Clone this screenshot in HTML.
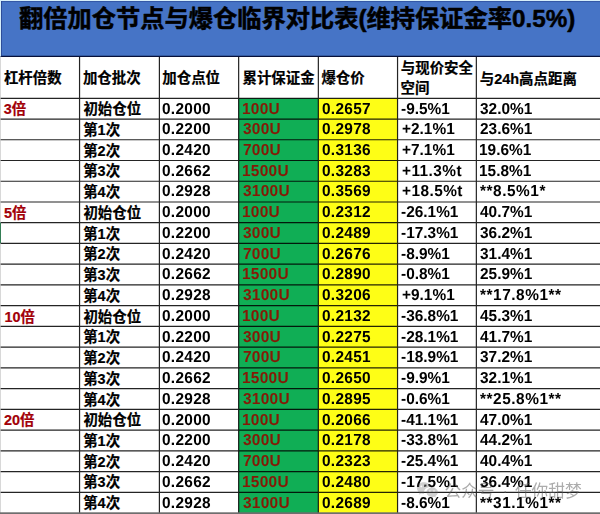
<!DOCTYPE html>
<html lang="zh"><head><meta charset="utf-8"><title>翻倍加仓节点与爆仓临界对比表(维持保证金率0.5%)</title>
<style>
html,body{margin:0;padding:0;background:#fff}
body{width:600px;height:514px;overflow:hidden;position:relative;font-family:"Liberation Sans",sans-serif}
#sheet{position:absolute;left:0;top:0;width:600px;height:514px;overflow:hidden}
svg{position:absolute;left:0;top:0;display:block}
svg text{font-family:"Liberation Sans","Noto Sans CJK SC",sans-serif}
#nums{position:absolute;left:0;top:0;width:600px;height:514px;will-change:transform}
.n{position:absolute;line-height:20px;font-size:15.9px;text-rendering:geometricPrecision;transform:scaleX(0.97);transform-origin:0 0;font-weight:700;white-space:nowrap;font-family:"Liberation Sans",sans-serif;letter-spacing:0;color:#000}
.g{color:#861806}
</style></head><body>
<div id="sheet">
<svg width="600" height="514" viewBox="0 0 600 514">
<rect x="0" y="0" width="600" height="56.40" fill="#4674c6"/>
<rect x="238.65" y="98.30" width="79.70" height="415.70" fill="#10ae55"/>
<rect x="318.35" y="98.30" width="79.20" height="415.70" fill="#fefe16"/>
<path d="M0 98.30H600M0 119.04H600M0 139.77H600M0 160.51H600M0 181.25H600M0 201.98H600M0 222.72H600M0 243.46H600M0 264.20H600M0 284.93H600M0 305.67H600M0 326.41H600M0 347.14H600M0 367.88H600M0 388.62H600M0 409.35H600M0 430.09H600M0 450.83H600M0 471.57H600M0 492.30H600M79.55 56.40V514M159.40 56.40V514M238.65 56.40V514M318.35 56.40V514M397.55 56.40V514M476.35 56.40V514" stroke="#000" stroke-width="1.2" stroke-opacity="0.86" fill="none"/>
<path d="M0 56.40H600" stroke="#06103a" stroke-width="1.1"/>
<path d="M0 0.5H600" stroke="#d6eefa" stroke-width="1"/>
<path d="M1 1.55H600" stroke="#2f4f9c" stroke-width="0.8" fill="none"/>
<path d="M1.4 1.2V56.40" stroke="#263f86" stroke-width="0.8" fill="none"/>
<path d="M0.5 0V56.40" stroke="#d6eefa" stroke-width="1"/>
<path d="M0.4 56.40V514" stroke="#c8c8c8" stroke-width="0.8"/>
<path d="M0.4 222.6V243.3" stroke="#217346" stroke-width="1"/>
<rect x="0" y="512.3" width="600" height="1.7" fill="#6e6e6e"/>
<g><title>翻倍加仓节点与爆仓临界对比表(维持保证金率0.5%)</title><text x="19.0" y="26.8" font-size="24.25" font-weight="700" fill="#000" stroke="#000" stroke-width="0.5" stroke-linejoin="round">翻倍加仓节点与爆仓临界对比表(维持保证金率0.5%)</text></g>
<g><title>杠杆倍数</title><text x="3.9" y="83.4" font-size="14.45" font-weight="700" fill="#000" stroke="#000" stroke-width="0.2">杠杆倍数</text></g>
<g><title>加仓批次</title><text x="82.9" y="83.4" font-size="14.45" font-weight="700" fill="#000" stroke="#000" stroke-width="0.2">加仓批次</text></g>
<g><title>加仓点位</title><text x="162.3" y="83.4" font-size="14.45" font-weight="700" fill="#000" stroke="#000" stroke-width="0.2">加仓点位</text></g>
<g><title>累计保证金</title><text x="242.5" y="83.4" font-size="14.45" font-weight="700" fill="#000" stroke="#000" stroke-width="0.2">累计保证金</text></g>
<g><title>爆仓价</title><text x="321.4" y="83.4" font-size="14.45" font-weight="700" fill="#000" stroke="#000" stroke-width="0.2">爆仓价</text></g>
<g><title>与现价安全</title><text x="400.8" y="73.0" font-size="14.45" font-weight="700" fill="#000" stroke="#000" stroke-width="0.2">与现价安全</text></g>
<g><title>空间</title><text x="400.6" y="93.3" font-size="14.45" font-weight="700" fill="#000" stroke="#000" stroke-width="0.2">空间</text></g>
<g><title>与24h高点距离</title><text x="479.8" y="83.7" font-size="14.45" font-weight="700" fill="#000" stroke="#000" stroke-width="0.2">与24h高点距离</text></g>
<g><title>3倍</title><text x="3.8" y="114.2" font-size="14.45" font-weight="700" fill="#a20008" stroke="#a20008" stroke-width="0.2">3倍</text></g>
<g><title>初始仓位</title><text x="83.4" y="114.2" font-size="14.45" font-weight="700" fill="#000" stroke="#000" stroke-width="0.2">初始仓位</text></g>
<g><title>第1次</title><text x="83.2" y="134.94" font-size="14.45" font-weight="700" fill="#000" stroke="#000" stroke-width="0.2">第1次</text></g>
<g><title>第2次</title><text x="83.2" y="155.67" font-size="14.45" font-weight="700" fill="#000" stroke="#000" stroke-width="0.2">第2次</text></g>
<g><title>第3次</title><text x="83.2" y="176.41" font-size="14.45" font-weight="700" fill="#000" stroke="#000" stroke-width="0.2">第3次</text></g>
<g><title>第4次</title><text x="83.2" y="197.15" font-size="14.45" font-weight="700" fill="#000" stroke="#000" stroke-width="0.2">第4次</text></g>
<g><title>5倍</title><text x="4.1" y="217.88" font-size="14.45" font-weight="700" fill="#a20008" stroke="#a20008" stroke-width="0.2">5倍</text></g>
<g><title>初始仓位</title><text x="83.4" y="217.88" font-size="14.45" font-weight="700" fill="#000" stroke="#000" stroke-width="0.2">初始仓位</text></g>
<g><title>第1次</title><text x="83.2" y="238.62" font-size="14.45" font-weight="700" fill="#000" stroke="#000" stroke-width="0.2">第1次</text></g>
<g><title>第2次</title><text x="83.2" y="259.36" font-size="14.45" font-weight="700" fill="#000" stroke="#000" stroke-width="0.2">第2次</text></g>
<g><title>第3次</title><text x="83.2" y="280.10" font-size="14.45" font-weight="700" fill="#000" stroke="#000" stroke-width="0.2">第3次</text></g>
<g><title>第4次</title><text x="83.2" y="300.83" font-size="14.45" font-weight="700" fill="#000" stroke="#000" stroke-width="0.2">第4次</text></g>
<g><title>10倍</title><text x="4.5" y="321.57" font-size="14.45" font-weight="700" fill="#a20008" stroke="#a20008" stroke-width="0.2">10倍</text></g>
<g><title>初始仓位</title><text x="83.4" y="321.57" font-size="14.45" font-weight="700" fill="#000" stroke="#000" stroke-width="0.2">初始仓位</text></g>
<g><title>第1次</title><text x="83.2" y="342.31" font-size="14.45" font-weight="700" fill="#000" stroke="#000" stroke-width="0.2">第1次</text></g>
<g><title>第2次</title><text x="83.2" y="363.04" font-size="14.45" font-weight="700" fill="#000" stroke="#000" stroke-width="0.2">第2次</text></g>
<g><title>第3次</title><text x="83.2" y="383.78" font-size="14.45" font-weight="700" fill="#000" stroke="#000" stroke-width="0.2">第3次</text></g>
<g><title>第4次</title><text x="83.2" y="404.52" font-size="14.45" font-weight="700" fill="#000" stroke="#000" stroke-width="0.2">第4次</text></g>
<g><title>20倍</title><text x="4.0" y="425.25" font-size="14.45" font-weight="700" fill="#a20008" stroke="#a20008" stroke-width="0.2">20倍</text></g>
<g><title>初始仓位</title><text x="83.4" y="425.25" font-size="14.45" font-weight="700" fill="#000" stroke="#000" stroke-width="0.2">初始仓位</text></g>
<g><title>第1次</title><text x="83.2" y="445.99" font-size="14.45" font-weight="700" fill="#000" stroke="#000" stroke-width="0.2">第1次</text></g>
<g><title>第2次</title><text x="83.2" y="466.73" font-size="14.45" font-weight="700" fill="#000" stroke="#000" stroke-width="0.2">第2次</text></g>
<g><title>第3次</title><text x="83.2" y="487.47" font-size="14.45" font-weight="700" fill="#000" stroke="#000" stroke-width="0.2">第3次</text></g>
<g><title>第4次</title><text x="83.2" y="508.20" font-size="14.45" font-weight="700" fill="#000" stroke="#000" stroke-width="0.2">第4次</text></g>
</svg>
<div id="nums">
<div class="n" style="left:162.18px;top:100px;letter-spacing:0.30px;">0.2000</div>
<div class="n g" style="left:242.23px;top:100px;letter-spacing:0.30px;">100U</div>
<div class="n y" style="left:321.68px;top:100px;letter-spacing:0.30px;">0.2657</div>
<div class="n" style="left:401.40px;top:100px;">-9.5%1</div>
<div class="n" style="left:479.85px;top:100px;">32.0%1</div>
<div class="n" style="left:162.18px;top:120px;letter-spacing:0.30px;">0.2200</div>
<div class="n g" style="left:242.85px;top:120px;letter-spacing:0.30px;">300U</div>
<div class="n y" style="left:321.68px;top:120px;letter-spacing:0.30px;">0.2978</div>
<div class="n" style="left:402.10px;top:120px;">+2.1%1</div>
<div class="n" style="left:479.66px;top:120px;">23.6%1</div>
<div class="n" style="left:162.18px;top:141px;letter-spacing:0.30px;">0.2420</div>
<div class="n g" style="left:242.54px;top:141px;letter-spacing:0.30px;">700U</div>
<div class="n y" style="left:321.68px;top:141px;letter-spacing:0.30px;">0.3136</div>
<div class="n" style="left:402.10px;top:141px;">+7.1%1</div>
<div class="n" style="left:479.23px;top:141px;">19.6%1</div>
<div class="n" style="left:162.18px;top:162px;letter-spacing:0.30px;">0.2662</div>
<div class="n g" style="left:242.23px;top:162px;letter-spacing:0.30px;">1500U</div>
<div class="n y" style="left:321.68px;top:162px;letter-spacing:0.30px;">0.3283</div>
<div class="n" style="left:402.10px;top:162px;letter-spacing:0.45px;">+11.3%t</div>
<div class="n" style="left:479.23px;top:162px;">15.8%1</div>
<div class="n" style="left:162.18px;top:182px;letter-spacing:0.30px;">0.2928</div>
<div class="n g" style="left:242.85px;top:182px;letter-spacing:0.30px;">3100U</div>
<div class="n y" style="left:321.68px;top:182px;letter-spacing:0.30px;">0.3569</div>
<div class="n" style="left:402.10px;top:182px;letter-spacing:0.45px;">+18.5%t</div>
<div class="n" style="left:480.15px;top:182px;letter-spacing:0.55px;">**8.5%1*</div>
<div class="n" style="left:162.18px;top:203px;letter-spacing:0.30px;">0.2000</div>
<div class="n g" style="left:242.23px;top:203px;letter-spacing:0.30px;">100U</div>
<div class="n y" style="left:321.68px;top:203px;letter-spacing:0.30px;">0.2312</div>
<div class="n" style="left:401.40px;top:203px;">-26.1%1</div>
<div class="n" style="left:479.97px;top:203px;">40.7%1</div>
<div class="n" style="left:162.18px;top:224px;letter-spacing:0.30px;">0.2200</div>
<div class="n g" style="left:242.85px;top:224px;letter-spacing:0.30px;">300U</div>
<div class="n y" style="left:321.68px;top:224px;letter-spacing:0.30px;">0.2489</div>
<div class="n" style="left:401.40px;top:224px;">-17.3%1</div>
<div class="n" style="left:479.85px;top:224px;">36.2%1</div>
<div class="n" style="left:162.18px;top:245px;letter-spacing:0.30px;">0.2420</div>
<div class="n g" style="left:242.54px;top:245px;letter-spacing:0.30px;">700U</div>
<div class="n y" style="left:321.68px;top:245px;letter-spacing:0.30px;">0.2676</div>
<div class="n" style="left:401.40px;top:245px;">-8.9%1</div>
<div class="n" style="left:479.85px;top:245px;">31.4%1</div>
<div class="n" style="left:162.18px;top:265px;letter-spacing:0.30px;">0.2662</div>
<div class="n g" style="left:242.23px;top:265px;letter-spacing:0.30px;">1500U</div>
<div class="n y" style="left:321.68px;top:265px;letter-spacing:0.30px;">0.2890</div>
<div class="n" style="left:401.40px;top:265px;">-0.8%1</div>
<div class="n" style="left:479.66px;top:265px;">25.9%1</div>
<div class="n" style="left:162.18px;top:286px;letter-spacing:0.30px;">0.2928</div>
<div class="n g" style="left:242.85px;top:286px;letter-spacing:0.30px;">3100U</div>
<div class="n y" style="left:321.68px;top:286px;letter-spacing:0.30px;">0.3206</div>
<div class="n" style="left:402.10px;top:286px;">+9.1%1</div>
<div class="n" style="left:480.15px;top:286px;letter-spacing:0.55px;">**17.8%1**</div>
<div class="n" style="left:162.18px;top:307px;letter-spacing:0.30px;">0.2000</div>
<div class="n g" style="left:242.23px;top:307px;letter-spacing:0.30px;">100U</div>
<div class="n y" style="left:321.68px;top:307px;letter-spacing:0.30px;">0.2132</div>
<div class="n" style="left:401.40px;top:307px;">-36.8%1</div>
<div class="n" style="left:479.97px;top:307px;">45.3%1</div>
<div class="n" style="left:162.18px;top:328px;letter-spacing:0.30px;">0.2200</div>
<div class="n g" style="left:242.85px;top:328px;letter-spacing:0.30px;">300U</div>
<div class="n y" style="left:321.68px;top:328px;letter-spacing:0.30px;">0.2275</div>
<div class="n" style="left:401.40px;top:328px;">-28.1%1</div>
<div class="n" style="left:479.97px;top:328px;">41.7%1</div>
<div class="n" style="left:162.18px;top:348px;letter-spacing:0.30px;">0.2420</div>
<div class="n g" style="left:242.54px;top:348px;letter-spacing:0.30px;">700U</div>
<div class="n y" style="left:321.68px;top:348px;letter-spacing:0.30px;">0.2451</div>
<div class="n" style="left:401.40px;top:348px;">-18.9%1</div>
<div class="n" style="left:479.85px;top:348px;">37.2%1</div>
<div class="n" style="left:162.18px;top:369px;letter-spacing:0.30px;">0.2662</div>
<div class="n g" style="left:242.23px;top:369px;letter-spacing:0.30px;">1500U</div>
<div class="n y" style="left:321.68px;top:369px;letter-spacing:0.30px;">0.2650</div>
<div class="n" style="left:401.40px;top:369px;">-9.9%1</div>
<div class="n" style="left:479.85px;top:369px;">32.1%1</div>
<div class="n" style="left:162.18px;top:390px;letter-spacing:0.30px;">0.2928</div>
<div class="n g" style="left:242.85px;top:390px;letter-spacing:0.30px;">3100U</div>
<div class="n y" style="left:321.68px;top:390px;letter-spacing:0.30px;">0.2895</div>
<div class="n" style="left:401.40px;top:390px;">-0.6%1</div>
<div class="n" style="left:480.15px;top:390px;letter-spacing:0.55px;">**25.8%1**</div>
<div class="n" style="left:162.18px;top:411px;letter-spacing:0.30px;">0.2000</div>
<div class="n g" style="left:242.23px;top:411px;letter-spacing:0.30px;">100U</div>
<div class="n y" style="left:321.68px;top:411px;letter-spacing:0.30px;">0.2066</div>
<div class="n" style="left:401.40px;top:411px;">-41.1%1</div>
<div class="n" style="left:479.97px;top:411px;">47.0%1</div>
<div class="n" style="left:162.18px;top:431px;letter-spacing:0.30px;">0.2200</div>
<div class="n g" style="left:242.85px;top:431px;letter-spacing:0.30px;">300U</div>
<div class="n y" style="left:321.68px;top:431px;letter-spacing:0.30px;">0.2178</div>
<div class="n" style="left:401.40px;top:431px;">-33.8%1</div>
<div class="n" style="left:479.97px;top:431px;">44.2%1</div>
<div class="n" style="left:162.18px;top:452px;letter-spacing:0.30px;">0.2420</div>
<div class="n g" style="left:242.54px;top:452px;letter-spacing:0.30px;">700U</div>
<div class="n y" style="left:321.68px;top:452px;letter-spacing:0.30px;">0.2323</div>
<div class="n" style="left:401.40px;top:452px;">-25.4%1</div>
<div class="n" style="left:479.97px;top:452px;">40.4%1</div>
<div class="n" style="left:162.18px;top:473px;letter-spacing:0.30px;">0.2662</div>
<div class="n g" style="left:242.23px;top:473px;letter-spacing:0.30px;">1500U</div>
<div class="n y" style="left:321.68px;top:473px;letter-spacing:0.30px;">0.2480</div>
<div class="n" style="left:401.40px;top:473px;">-17.5%1</div>
<div class="n" style="left:479.85px;top:473px;">36.4%1</div>
<div class="n" style="left:162.18px;top:494px;letter-spacing:0.30px;">0.2928</div>
<div class="n g" style="left:242.85px;top:494px;letter-spacing:0.30px;">3100U</div>
<div class="n y" style="left:321.68px;top:494px;letter-spacing:0.30px;">0.2689</div>
<div class="n" style="left:401.40px;top:494px;">-8.6%1</div>
<div class="n" style="left:480.15px;top:494px;letter-spacing:0.55px;">**31.1%1**</div>
</div>
<svg width="600" height="514" viewBox="0 0 600 514" style="pointer-events:none"><g opacity="0.5"><title>公众号 · 任你甜梦</title><text x="444.5" y="497.2" font-size="16.7" fill="#5a5a5a">公众号</text><text x="505.4" y="497.3" font-size="16.7" fill="#5a5a5a" text-anchor="middle">·</text><text x="514.9" y="497.2" font-size="16.7" fill="#5a5a5a">任你甜梦</text></g><g opacity="0.5"><g fill="#6a6a6a" opacity="0.62"><path d="M423.6 482.2c-3.7 0-6.7 2.6-6.7 5.9 0 1.9 1 3.5 2.6 4.6l-.7 2.1 2.5-1.3c.7.2 1.5.3 2.3.3h.6a4.9 4.9 0 0 1-.2-1.4c0-3 2.9-5.4 6.400-5.400h.500c-.6-2.800-3.600-4.800-7.300-4.800z"/><path d="M437.900 492.300c0-2.600-2.600-4.700-5.700-4.700-3.200 0-5.700 2.100-5.700 4.700s2.500 4.700 5.700 4.700c.700 0 1.300-.1 1.900-.300l1.900 1-.5-1.700c1.500-.9 2.400-2.200 2.400-3.700z"/></g><g fill="#fff" opacity="0.9"><circle cx="429.900" cy="491" r="0.800"/><circle cx="434" cy="491" r="0.800"/><circle cx="421.300" cy="486.400" r="0.900"/><circle cx="425.900" cy="486.400" r="0.900"/></g></g></svg>
</div>
</body></html>
